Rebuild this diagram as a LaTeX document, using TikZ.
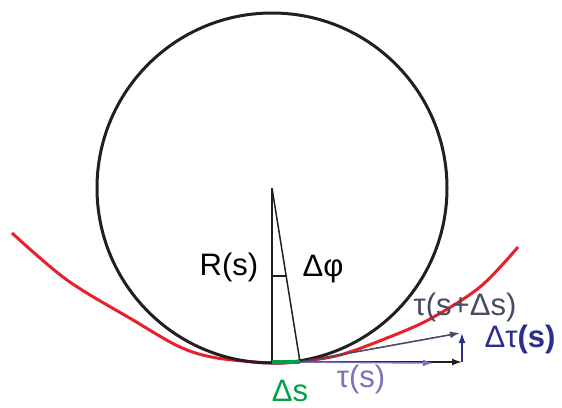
\documentclass[tikz,border=0pt]{standalone}
\usepackage{fontspec}
\setmainfont{Liberation Sans}
\usetikzlibrary{arrows.meta}
\definecolor{cred}{HTML}{E8202A}
\definecolor{cgreen}{HTML}{00A04A}
\definecolor{cnavy}{HTML}{2B2E8C}
\definecolor{clav}{HTML}{7B72B8}
\definecolor{cslate}{HTML}{4A4A66}
\definecolor{cblack}{HTML}{231F20}
\tikzset{
  lbl/.style={inner sep=0pt, font=\fontsize{31}{36}\selectfont},
  vec/.style={line width=1.6pt, -{Latex[length=10pt,width=7pt]}},
}
\begin{document}
\begin{tikzpicture}[x=1pt,y=-1pt]
\useasboundingbox (0,0) rectangle (562,407);
% coordinates
\coordinate (C) at (272,188);
\coordinate (B) at (272,362);
\coordinate (P) at (300,362);
\coordinate (T) at (462,362);
\coordinate (Tl) at (433,363);
\coordinate (Ts) at (460,333);
% red curve
\draw[cred, line width=3pt, line join=round] plot[smooth, tension=0.55] coordinates {(12,233) (67,280) (133,320) (180,347) (217,358) (272,363) (300,361.5) (340,355) (387,338) (430,319) (480,287) (518,247)};
% circle
\draw[cblack, line width=3pt] (C) circle[radius=175];
% radius lines
\draw[cblack, line width=1.5pt] (C) -- (B);
\draw[cblack, line width=1.5pt] (C) -- (P);
\draw[cblack, line width=2.2pt] (272,276) -- (286.5,276);
% green arc length
\draw[cgreen, line width=3.5pt] (B) -- (P);
% vectors
\draw[vec, cblack] (P) -- (T);
\draw[vec, clav] (P) -- (Tl);
\draw[vec, cslate] (P) -- (Ts);
\draw[vec, cnavy] (T) -- (462,333);
% labels
\node[lbl] (rs) at (229,267) {R(s)};
\node[lbl] (dphi) at (323,269) {Δφ};
\node[lbl, text=cslate] (tds) at (465,307) {τ(s+Δs)};
\node[lbl, text=cnavy] (dt) at (520,339) {Δτ\textbf{(s)}};
\node[lbl, text=clav] (ts) at (361,379) {τ(s)};
\node[lbl, text=cgreen] (ds) at (290,391) {Δs};
\end{tikzpicture}
\end{document}
